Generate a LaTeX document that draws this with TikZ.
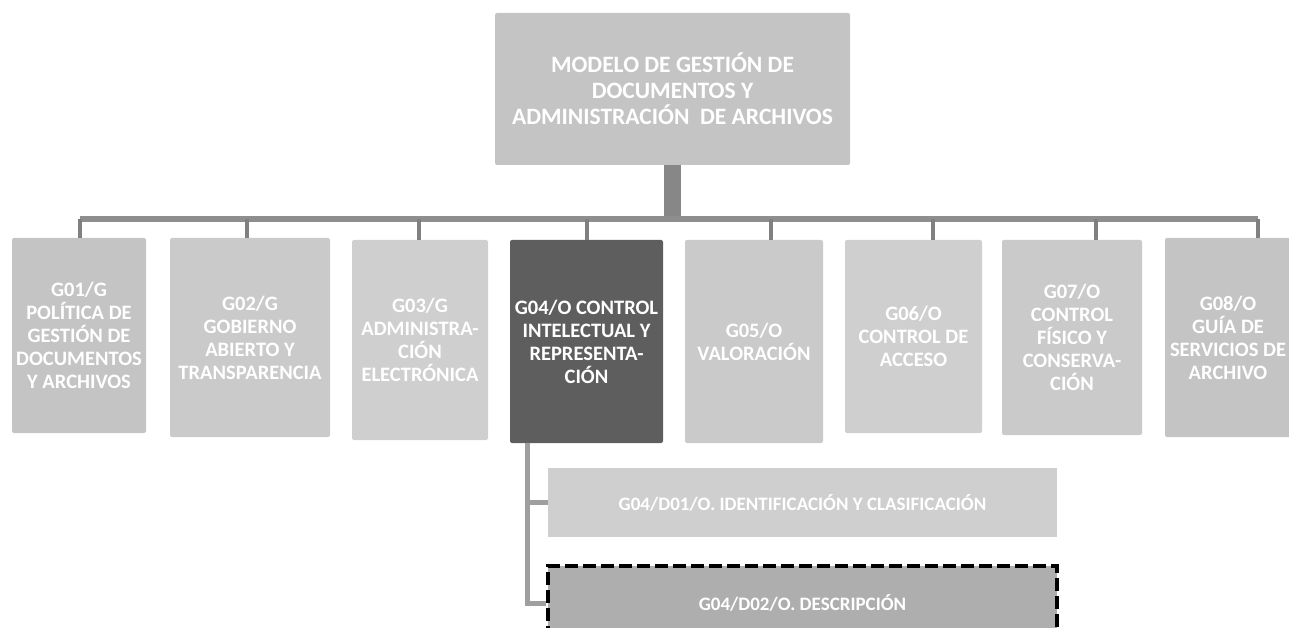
\documentclass[tikz,border=0pt]{standalone}
\usepackage{fontspec}
\setmainfont{Carlito}
\usepackage{tikz}

\definecolor{boxgray}{HTML}{C4C4C4}
\definecolor{boxlight}{HTML}{CACACA}
\definecolor{boxdark}{HTML}{5E5E5E}
\definecolor{subgray}{HTML}{CFCFCF}
\definecolor{subdark}{HTML}{AEAEAE}
\definecolor{linegray}{HTML}{8E8E8E}

\begin{document}
\begin{tikzpicture}[x=1pt,y=-1pt,
  caja/.style={fill=boxlight,rounded corners=2pt,align=center,text=white,
    font=\bfseries\fontsize{20.5}{23}\selectfont,inner sep=1pt},
  subcaja/.style={fill=subgray,minimum width=509pt,minimum height=69pt,
    text=white,font=\bfseries\fontsize{19}{22}\selectfont},
  barra/.style={draw=linegray,line width=6pt},
  gancho/.style={draw=linegray!90!black,line width=4pt},
  rama/.style={draw=linegray!85,line width=5pt}]
\useasboundingbox (0,0) rectangle (1289,628);
% cabecera
\node[caja,fill=boxgray,minimum width=355pt,minimum height=152pt,
  font=\bfseries\fontsize{23.5}{26}\selectfont] (titulo) at (672.5,89)
  {MODELO DE GESTIÓN DE\\DOCUMENTOS Y\\ADMINISTRACIÓN~~DE ARCHIVOS};
% grupos
\node[caja,fill=boxgray,minimum width=134pt,minimum height=195pt] (g01) at (79,335.5)
  {G01/G\\POLÍTICA DE\\GESTIÓN DE\\DOCUMENTOS\\Y ARCHIVOS};
\node[caja,minimum width=160pt,minimum height=199pt] (g02) at (250,337.5)
  {G02/G\\GOBIERNO\\ABIERTO Y\\TRANSPARENCIA};
\node[caja,fill=boxlight!90!white,minimum width=136pt,minimum height=200pt] (g03) at (420,340)
  {G03/G\\ADMINISTRA-\\CIÓN\\ELECTRÓNICA};
\node[caja,fill=boxdark,minimum width=153pt,minimum height=203pt] (g04) at (586.5,341.5)
  {G04/O CONTROL\\INTELECTUAL Y\\REPRESENTA-\\CIÓN};
\node[caja,minimum width=138pt,minimum height=203pt] (g05) at (754,341.5)
  {G05/O\\VALORACIÓN};
\node[caja,fill=boxlight!90!white,minimum width=137pt,minimum height=193pt] (g06) at (913.5,336.5)
  {G06/O\\CONTROL DE\\ACCESO};
\node[caja,minimum width=140pt,minimum height=195pt] (g07) at (1072,337.5)
  {G07/O\\CONTROL\\FÍSICO Y\\CONSERVA-\\CIÓN};
\node[caja,fill=boxgray,minimum width=126pt,minimum height=199pt] (g08) at (1228,337.5)
  {G08/O\\GUÍA DE\\SERVICIOS DE\\ARCHIVO};
% documentos de G04
\node[subcaja] (d01) at (802.5,502.5) {G04/D01/O. IDENTIFICACIÓN Y CLASIFICACIÓN};
\node[subcaja,fill=subdark,minimum height=74pt,draw=black,line width=4pt,
  dash pattern=on 13pt off 5pt] (d02) at (802.5,603) {G04/D02/O. DESCRIPCIÓN};
% conectores
\coordinate (t1) at (80,219);
\coordinate (t2) at (247,219);
\coordinate (t3) at (419,219);
\coordinate (t4) at (587,219);
\coordinate (t5) at (771,219);
\coordinate (t6) at (933,219);
\coordinate (t7) at (1096,219);
\coordinate (t8) at (1258,219);
\coordinate (v) at (527,0);
\draw[barra,line width=17pt,draw=linegray!95!black] (titulo.south) -- (titulo.south |- t1);
\draw[barra] (t1) -- (t8);
\draw[gancho] (t1) -- (t1 |- g01.north);
\draw[gancho] (t2) -- (t2 |- g02.north);
\draw[gancho] (t3) -- (t3 |- g03.north);
\draw[gancho] (t4) -- (t4 |- g04.north);
\draw[gancho] (t5) -- (t5 |- g05.north);
\draw[gancho] (t6) -- (t6 |- g06.north);
\draw[gancho] (t7) -- (t7 |- g07.north);
\draw[gancho] (t8) -- (t8 |- g08.north);
\draw[rama] (g04.south -| v) |- (d01.west);
\draw[rama] (g04.south -| v) |- (d02.west);
\end{tikzpicture}
\end{document}
